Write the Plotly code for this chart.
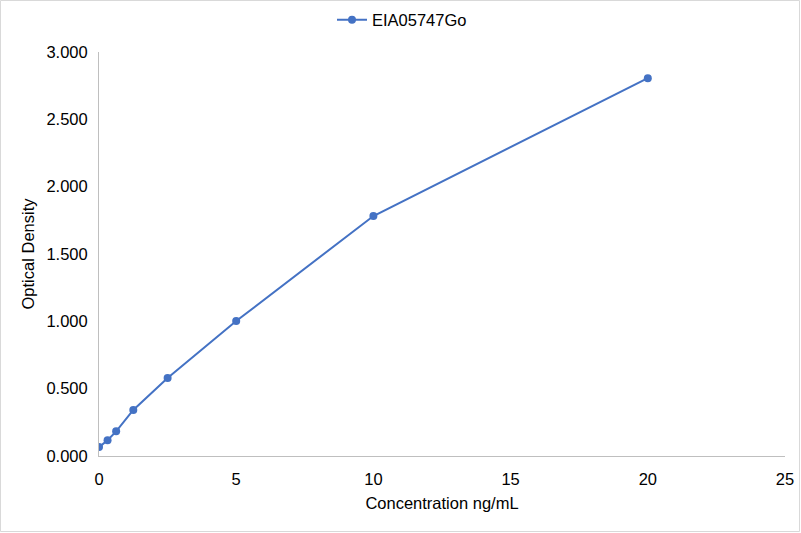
import plotly.graph_objects as go

concentration = [0, 0.312, 0.625, 1.25, 2.5, 5, 10, 20]
optical_density = [0.066, 0.117, 0.183, 0.342, 0.579, 1.002, 1.782, 2.806]
series_name = "EIA05747Go"
x_ticks = [0, 5, 10, 15, 20, 25]
y_ticks = [0, 0.5, 1.0, 1.5, 2.0, 2.5, 3.0]

W, H = 801, 533
L, R, T, B = 99, 16, 52, 77
pw, ph = W - L - R, H - T - B

fig = go.Figure()
fig.add_trace(go.Scatter(
    x=concentration, y=optical_density, name=series_name,
    mode="lines+markers",
    line=dict(color="#4472C4", width=2),
    marker=dict(color="#4472C4", size=8),
    showlegend=True,
))

font = dict(family="Liberation Sans, Arial, sans-serif", size=16.5, color="#000000")

fig.update_layout(
    width=W, height=H,
    margin=dict(l=L, r=R, t=T, b=B, autoexpand=False),
    paper_bgcolor="white", plot_bgcolor="white",
    font=font,
    showlegend=True,
    legend=dict(orientation="h", x=0.5 - 40 / pw, xanchor="center",
                y=1 + (T - 20) / ph, yanchor="middle", font=font,
                bgcolor="rgba(0,0,0,0)"),
    xaxis=dict(range=[0, 25], tickvals=x_ticks, ticktext=[str(v) for v in x_ticks],
               showgrid=False, zeroline=False, showline=True, linecolor="#BFBFBF",
               linewidth=1, ticks="", ticklabelstandoff=8,
               title=dict(text="Concentration ng/mL", font=font, standoff=10)),
    yaxis=dict(range=[0, 3.0], tickvals=y_ticks, tickformat=".3f",
               showgrid=False, zeroline=False, showline=True, linecolor="#BFBFBF",
               linewidth=1, ticks="", ticklabelstandoff=7,
               title=dict(text="Optical Density", font=font, standoff=7)),
    shapes=[dict(type="rect", xref="paper", yref="paper",
                 x0=-(L - 0.5) / pw, x1=1 + (R - 1.5) / pw,
                 y0=-(B - 1.5) / ph, y1=1 + (T - 0.5) / ph,
                 line=dict(color="#D9D9D9", width=1), fillcolor="rgba(0,0,0,0)")],
)

fig.write_html("out.html", config={"displayModeBar": False},
               post_script="document.body.style.margin='0';")
